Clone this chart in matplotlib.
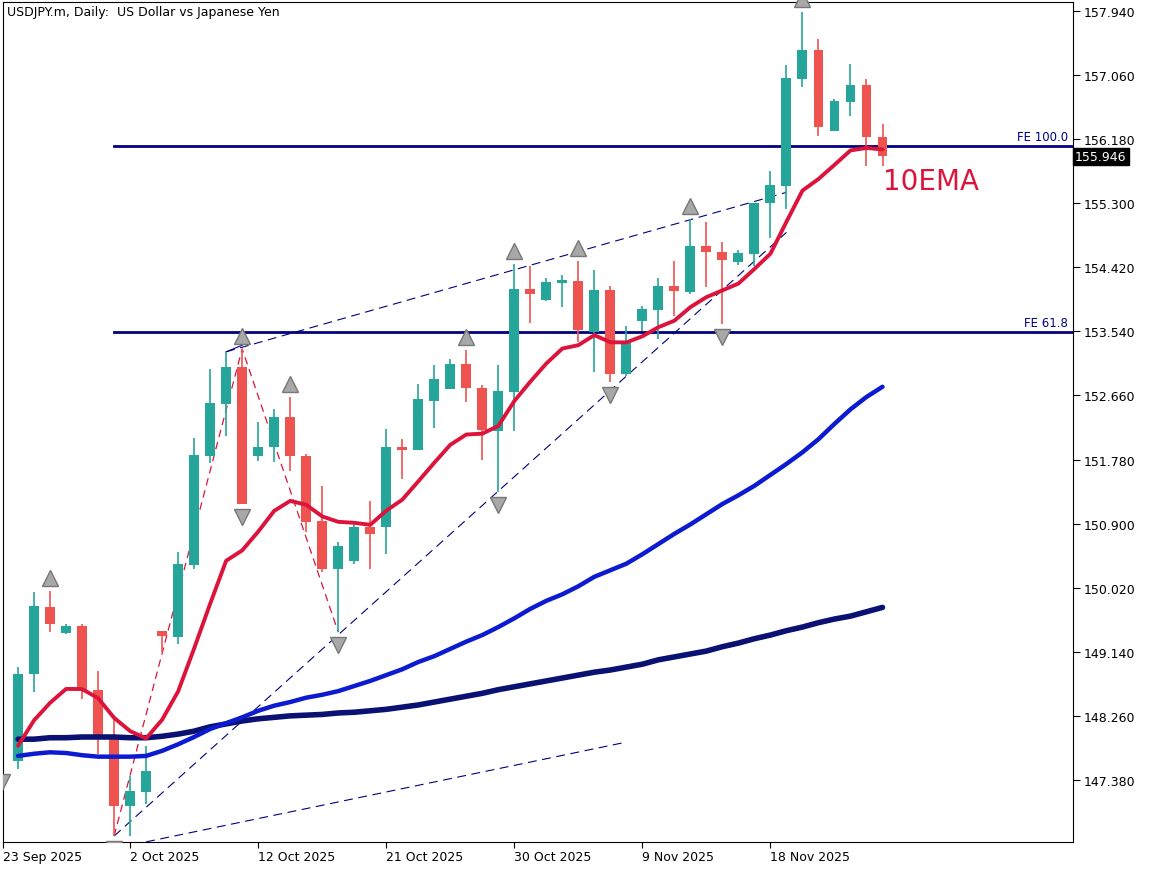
import matplotlib
matplotlib.use("Agg")
import matplotlib.pyplot as plt
from matplotlib.ticker import FixedLocator
import numpy as np

title = "USDJPY.m, Daily:  US Dollar vs Japanese Yen"
opens  = [147.64,148.84,149.75,149.40,149.49,148.62,147.94,147.02,147.21,149.43,
          149.34,150.33,151.83,152.54,153.05,151.83,151.95,152.36,151.83,150.94,
          150.28,150.39,150.85,150.85,151.94,151.91,152.58,152.75,153.09,152.76,
          152.17,152.71,154.12,153.97,154.21,154.23,153.53,154.11,152.95,153.68,
          153.83,154.16,154.08,154.71,154.63,154.49,154.60,155.30,155.54,157.01,
          157.40,156.29,156.69,156.92,156.21]
highs  = [148.93,149.96,149.97,149.52,149.52,148.88,148.22,147.43,147.85,149.43,
          150.51,152.08,153.02,153.26,153.30,152.30,152.47,152.64,151.86,151.42,
          150.65,150.90,151.21,152.20,152.06,152.82,153.08,153.16,153.28,152.80,
          153.08,154.47,154.44,154.27,154.31,154.51,154.38,154.16,153.61,153.89,
          154.27,154.51,155.08,155.04,154.77,154.66,155.30,155.74,157.20,157.93,
          157.56,156.73,157.21,157.01,156.39]
lows   = [147.53,148.59,149.41,149.38,148.49,147.74,146.61,146.61,147.05,149.14,
          149.25,150.28,151.73,152.10,151.17,151.76,151.75,151.62,150.79,150.24,
          149.41,150.35,150.28,150.48,151.51,151.91,152.21,152.75,152.57,151.77,
          151.33,152.17,153.66,153.96,153.88,153.39,152.98,152.84,152.93,153.55,
          153.44,153.75,154.05,154.15,153.64,154.45,154.44,154.82,155.22,156.90,
          156.22,156.29,156.50,155.81,155.81]
closes = [148.84,149.77,149.52,149.49,148.62,147.94,147.02,147.23,147.50,149.36,
          150.35,151.84,152.56,153.05,151.17,151.95,152.36,151.83,150.92,150.28,
          150.59,150.85,150.76,151.95,151.91,152.61,152.89,153.09,152.76,152.19,
          152.72,154.12,154.05,154.22,154.23,153.56,154.11,152.95,153.38,153.85,
          154.16,154.09,154.71,154.63,154.52,154.62,155.30,155.55,157.02,157.40,
          156.35,156.70,156.92,156.21,155.95]
ema10_seed = 147.85
ma_blue = [147.71,147.74,147.76,147.75,147.72,147.70,147.70,147.70,147.71,147.78,
           147.87,147.97,148.08,148.16,148.24,148.33,148.40,148.45,148.51,148.55,
           148.60,148.67,148.74,148.82,148.90,149.00,149.08,149.18,149.28,149.37,
           149.48,149.60,149.73,149.84,149.93,150.04,150.17,150.26,150.35,150.48,
           150.62,150.76,150.89,151.03,151.17,151.29,151.42,151.57,151.72,151.88,
           152.06,152.27,152.47,152.64,152.78]
ma_navy = [147.94,147.94,147.96,147.96,147.97,147.97,147.97,147.96,147.96,147.98,
           148.01,148.05,148.11,148.15,148.19,148.22,148.24,148.26,148.27,148.28,
           148.30,148.31,148.33,148.35,148.38,148.41,148.45,148.49,148.53,148.57,
           148.62,148.66,148.70,148.74,148.78,148.82,148.86,148.89,148.93,148.97,
           149.03,149.07,149.11,149.15,149.21,149.26,149.32,149.37,149.43,149.48,
           149.54,149.59,149.63,149.69,149.75]
fe_levels = [156.09, 153.53]
fe_labels = ["FE 100.0", "FE 61.8"]
yticks = [157.940,157.060,156.180,155.300,154.420,153.540,152.660,151.780,
          150.900,150.020,149.140,148.260,147.380]
xtick_bars = [-0.94, 7, 15, 23, 31, 39, 47]
xtick_labels = ["23 Sep 2025","2 Oct 2025","12 Oct 2025","21 Oct 2025",
                "30 Oct 2025","9 Nov 2025","18 Nov 2025"]
up_arrows = [(2,149.97),(14,153.30),(17,152.64),(28,153.28),(31,154.47),(35,154.51),(42,155.08),(49,157.93)]
dn_arrows = [(-1,147.53),(6,146.61),(14,151.17),(20,149.41),(30,151.33),(37,152.84),(44,153.64)]
upper_chan = [(13,153.26),(48,155.45)]
lower_chan = [(6,146.61),(48,154.90)]
bottom_chan = [(8,146.53),(38,147.90)]
zigzag = [(6,146.61),(14,153.30),(20,149.41)]
last_price = 155.946

# EMA10
ema = [ema10_seed]
a = 2/11
for c in closes[1:]:
    ema.append(ema[-1] + a*(c-ema[-1]))

W, H = 1152, 870
fig = plt.figure(figsize=(W/100, H/100), dpi=100)
ax = fig.add_axes([3/W, 1-843/H, 1070/W, 840/H])
ax.set_xlim(-0.94, 65.9)
ax.set_ylim(146.528, 158.064)

green, red = "#26a69a", "#ef5350"
x = np.arange(len(closes))
for i in x:
    o, h, l, c = opens[i], highs[i], lows[i], closes[i]
    col = green if c >= o else red
    ax.vlines(i, l, h, color=col, lw=1.2, zorder=3)
    lo, hi = min(o, c), max(o, c)
    if hi - lo < 0.04:
        hi = lo + 0.04
    ax.bar(i, hi-lo, bottom=lo, width=0.62, color=col, zorder=4, lw=0)

ax.plot(x, ma_navy, color="#0a1172", lw=4.0, zorder=5, solid_capstyle='round')
ax.plot(x, ma_blue, color="#0c1ad0", lw=3.2, zorder=5, solid_capstyle='round')
ax.plot(x, ema, color="#dc143c", lw=2.8, zorder=6, solid_capstyle='round')

for lv, lb in zip(fe_levels, fe_labels):
    ax.plot([6, 65.9], [lv, lv], color="#000080", lw=2, zorder=2)
    ax.text(65.6, lv+0.04, lb, ha='right', va='bottom', fontsize=8.5, color="#000080")

for seg in (upper_chan, lower_chan, bottom_chan):
    (x0, y0), (x1, y1) = seg
    ax.plot([x0, x1], [y0, y1], color="#000080", lw=0.8, ls=(0, (8, 5)), zorder=2)
ax.plot([13, 14], [153.26, 153.35], color="#000080", lw=0.8, zorder=2)
zx, zy = zip(*zigzag)
ax.plot(zx, zy, color="#dc143c", lw=0.9, ls=(0, (6, 4)), zorder=2)

for (i, p) in up_arrows:
    ax.plot(i, p+0.18, marker='^', ms=11, color="#a8a8a8", mec="#777777", zorder=7, clip_on=False)
for (i, p) in dn_arrows:
    ax.plot(i, p-0.18, marker='v', ms=11, color="#a8a8a8", mec="#777777", zorder=7)

ax.text(54, 155.6, "10EMA", color="#dc143c", fontsize=20, ha='left', va='center', zorder=8)
ax.text(0.004, 0.997, title, transform=ax.transAxes, ha='left', va='top', fontsize=9)

ax.yaxis.tick_right()
ax.yaxis.set_major_locator(FixedLocator(yticks))
ax.set_yticklabels([f"{v:.3f}" for v in yticks], fontsize=9)
ax.tick_params(axis='y', length=5, pad=3)
ax.set_xticks(xtick_bars)
ax.set_xticklabels(xtick_labels, fontsize=9, ha='left')
ax.tick_params(axis='x', length=4, pad=2)
for s in ax.spines.values():
    s.set_linewidth(0.8)

ax.text(1.002, last_price, f"{last_price:.3f}", transform=ax.get_yaxis_transform(),
        ha='left', va='center', fontsize=9, color='white',
        bbox=dict(boxstyle='square,pad=0.15', fc='black', ec='black'))

fig.savefig("out.png", dpi=100)
